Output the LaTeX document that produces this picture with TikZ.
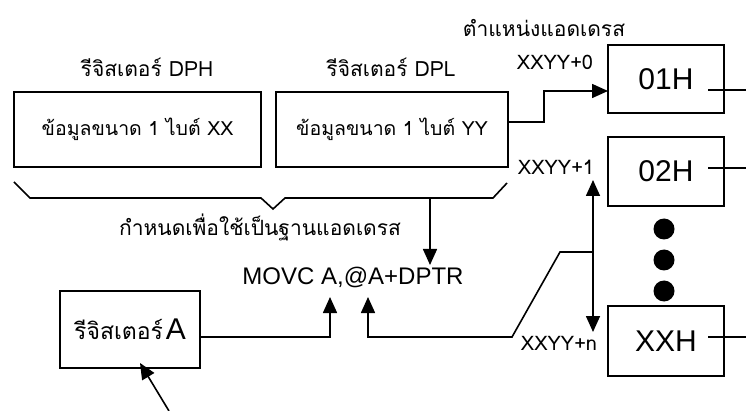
\documentclass[tikz,border=0pt]{standalone}
\usepackage{fontspec}
\setmainfont{Liberation Sans}
\newfontfamily\thaifont[Script=Thai]{Loma}
\usetikzlibrary{arrows.meta}
\begin{document}
\begin{tikzpicture}[x=1pt,y=-1pt,line width=1.6pt,
  box/.style={draw,line width=1.6pt,inner sep=0pt,outer sep=0pt,anchor=north west},
  arr/.style={-{Triangle[length=16pt,width=14pt]}},
  darr/.style={{Triangle[length=16pt,width=14pt]}-{Triangle[length=16pt,width=14pt]}},
  fthai/.style={font=\fontsize{21}{25}\thaifont},
  fbox/.style={font=\fontsize{19.5}{23}\thaifont},
  fsmall/.style={font=\fontsize{20}{24}\thaifont},
  fbig/.style={font=\fontsize{30}{34}\selectfont},
  fmovc/.style={font=\fontsize{24}{28}\selectfont},
  lbl/.style={inner sep=0pt}]
\useasboundingbox (0,0) rectangle (746,411);

% register boxes
\node[box,fbox,minimum width=247pt,minimum height=75pt] (dph) at (14,92) {ข้อมูลขนาด 1 ไบต์ XX};
\node[box,fbox,minimum width=232pt,minimum height=75pt] (dpl) at (276,92) {ข้อมูลขนาด 1 ไบต์ YY};
\node[lbl,fthai] (ldph) at (147,67) {รีจิสเตอร์ DPH};
\node[lbl,fthai] (ldpl) at (391,67) {รีจิสเตอร์ DPL};

% memory boxes
\node[box,fbig,minimum width=116pt,minimum height=68pt] (h1) at (608,45) {01H};
\node[box,fbig,minimum width=116pt,minimum height=69pt] (h2) at (608,137) {02H};
\node[box,fbig,minimum width=116pt,minimum height=70pt] (hx) at (608,306) {XXH};
\node[lbl,fthai] (ltitle) at (544,28) {ตำแหน่งแอดเดรส};
\node[lbl,fsmall] (x0) at (555,62) {XXYY+0};
\node[lbl,fsmall] (x1) at (556,167) {XXYY+1};
\node[lbl,fsmall] (xn) at (559,343) {XXYY+n};

% dots
\fill (664,229) circle (10.5pt);
\fill (664,260) circle (10.5pt);
\fill (664,291) circle (10.5pt);

% lines out of memory boxes
\coordinate (o1a) at (708,90);  \coordinate (o1b) at (746,90);
\coordinate (o2a) at (708,168); \coordinate (o2b) at (746,168);
\coordinate (oxa) at (708,337); \coordinate (oxb) at (746,337);
\draw (o1a) -- (o1b);
\draw (o2a) -- (o2b);
\draw (oxa) -- (oxb);

% brace
\draw (14,182) -- (30,198) -- (261,198) -- (273,209) -- (285,198) -- (493,198) -- (507,183);
\node[lbl,fthai] (lbase) at (260,227) {กำหนดเพื่อใช้เป็นฐานแอดเดรส};

% instruction
\node[lbl,fmovc] (movc) at (353,277) {MOVC A,@A+DPTR};

% register A
\node[box,minimum width=140pt,minimum height=77pt] (rega) at (60,291) {{\fontsize{23}{27}\thaifont รีจิสเตอร์} {\fontsize{30}{34}\selectfont A}};

% connectors
\coordinate (dplout) at (508,122);
\coordinate (h1in) at (608,91);
\draw[arr] (dplout) -- (544,122) |- (h1in);

\coordinate (bj) at (430,198);
\coordinate (bt) at (430,265);
\draw[arr] (bj) -- (bt);

\coordinate (v1) at (593,180);
\coordinate (vn) at (593,332);
\draw[darr] (v1) -- (vn);

\coordinate (vb) at (593,252);
\coordinate (m2) at (368,297);
\draw[arr] (vb) -- (560,252) -- (512,337) -- (368,337) -- (m2);

\coordinate (aout) at (200,337);
\coordinate (m1) at (330,297);
\draw[arr] (aout) -| (m1);

\coordinate (ain) at (169,411);
\coordinate (atip) at (140,363);
\draw[arr] (ain) -- (atip);
\end{tikzpicture}
\end{document}
